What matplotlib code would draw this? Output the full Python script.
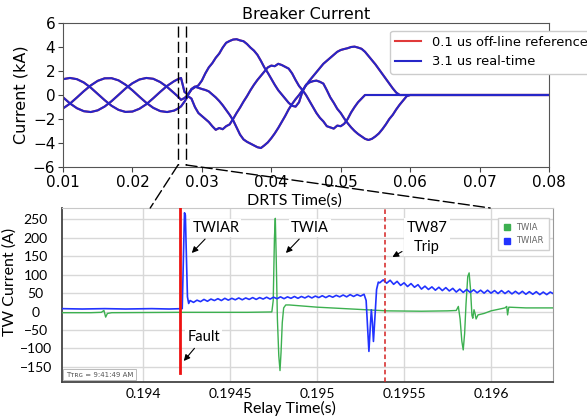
import numpy as np
import matplotlib.pyplot as plt
from matplotlib.lines import Line2D
from matplotlib.patches import ConnectionPatch

# ---- top panel: DRTS breaker current (kA), times in ms ----
t_ms = np.concatenate([np.arange(10, 26.5, 1.0), np.arange(26.5, 60.25, 0.5), [80.0]])

ia = [1.32, 1.42, 1.32, 1.04, 0.61, 0.09, -0.43, -0.90, -1.24, -1.41, -1.38, -1.15, -0.77, -0.27, 0.26, 0.76, 1.15,
      1.30, 1.42, 0.25, 0.05, 0.45, 0.65, 0.80, 1.20,
      1.80, 2.30, 2.65, 3.10, 3.45, 3.95, 4.35, 4.50, 4.62, 4.65,
      4.55, 4.48, 4.25, 3.95, 3.70, 3.35, 2.85, 2.30, 1.85, 1.35,
      0.85, 0.40, 0.05, -0.30, -0.65, -0.90, -0.97, -0.60, 0.30, 0.85,
      1.05, 1.15, 1.20, 1.10, 0.95, 0.40, -0.20, -0.65, -1.15, -1.50,
      -1.95, -2.35, -2.70, -3.00, -3.25, -3.45, -3.65, -3.75, -3.65, -3.45,
      -3.20, -2.85, -2.45, -2.00, -1.65, -1.20, -0.80, -0.45, -0.10, 0.00,
      0.00]
ib = [-0.19, -0.70, -1.10, -1.35, -1.42, -1.28, -0.96, -0.51, 0.01, 0.54, 0.98, 1.29, 1.42, 1.35, 1.08, 0.67, 0.16,
      -0.10, -0.40, -0.25, 0.00, 0.50, 0.70, 0.60, 0.50,
      0.42, 0.30, 0.05, -0.20, -0.50, -0.85, -1.25, -1.65, -2.10, -2.70,
      -3.30, -3.70, -3.90, -4.05, -4.20, -4.35, -4.42, -4.20, -3.95, -3.60,
      -3.20, -2.75, -2.25, -1.75, -1.20, -0.75, -0.35, 0.00, 0.40, 0.80,
      1.20, 1.55, 1.90, 2.25, 2.60, 2.85, 3.10, 3.35, 3.60, 3.75,
      3.83, 3.90, 4.00, 4.03, 3.95, 3.85, 3.60, 3.25, 2.90, 2.55,
      2.15, 1.75, 1.35, 0.95, 0.55, 0.20, 0.00, 0.00, 0.00, 0.00,
      0.00]
ic = [-1.12, -0.72, -0.21, 0.32, 0.80, 1.18, 1.39, 1.40, 1.22, 0.86, 0.39, -0.14, -0.65, -1.07, -1.34, -1.42, -1.30,
      -1.15, -0.95, -0.55, -0.10, -0.30, -1.00, -1.50, -1.75,
      -2.00, -2.25, -2.60, -2.90, -2.75, -2.85, -2.60, -2.45, -2.00, -1.50,
      -1.05, -0.55, -0.10, 0.40, 0.85, 1.25, 1.60, 1.95, 2.30, 2.45,
      2.40, 2.60, 2.50, 2.35, 2.20, 1.80, 1.25, 0.75, 0.40, 0.00,
      -0.50, -1.00, -1.50, -1.90, -2.20, -2.60, -2.70, -2.80, -2.55, -2.60,
      -2.40, -2.00, -1.45, -1.00, -0.60, -0.30, 0.00, 0.00, 0.00, 0.00,
      0.00, 0.00, 0.00, 0.00, 0.00, 0.00, 0.00, 0.00, 0.00, 0.00,
      0.00]

zoom_t = [0.02657, 0.02772]        # dashed window (DRTS time)
zoom_relay = [0.194041, 0.195995]  # where the window lands on the relay axis

# ---- bottom panel: relay TW currents (A) ----
twiar_pre_t = [0.19353, 0.19365, 0.19378, 0.19390, 0.19405, 0.19415, 0.194225]
twiar_pre = [8, 7, 8, 7, 8, 7, 8]
twiar_spk_t = [0.194232, 0.194238, 0.194243, 0.194249, 0.194255, 0.194262]
twiar_spk = [150, 268, 262, 150, 40, 22]
twiar_r1 = [30, 25, 31, 27, 33, 28, 34, 30, 35, 30, 36, 31, 36, 32, 37, 32, 37, 33, 38, 33,
            38, 34, 39, 34, 39, 35, 40, 35, 40, 36, 41, 36, 41, 37, 42, 37, 42, 38, 43, 38,
            43, 39, 44, 40, 45, 40, 46, 41, 46, 42, 47]
twiar_dip_t = [0.195282, 0.195290, 0.195298, 0.195306, 0.195312, 0.195318, 0.195324,
               0.195332, 0.195342, 0.195352]
twiar_dip = [30, -40, -108, -40, 5, -30, -81, -20, 60, 80]
twiar_r2 = [78, 86, 77, 85, 74, 82, 71, 78, 68, 76, 66, 73, 61, 69, 60, 67, 58, 66, 57, 65,
            56, 63, 53, 61, 52, 60, 52, 59, 51, 58, 50, 58, 50, 57, 49, 57, 49, 56, 48, 55,
            48, 55, 47, 54, 47, 54, 46, 53, 46, 53, 48]

twia_t = [0.19353, 0.19370, 0.19376, 0.193775, 0.193785, 0.193795, 0.19382, 0.19420, 0.19460,
          0.194740, 0.194748, 0.194755, 0.194760, 0.194765, 0.194772, 0.194780, 0.194787,
          0.194793, 0.194800, 0.194808, 0.194820, 0.194840, 0.19500, 0.19520, 0.19540,
          0.19560, 0.19575, 0.195800, 0.195812, 0.195822, 0.195832, 0.195840, 0.195848,
          0.195856, 0.195866, 0.195874, 0.195882, 0.195890, 0.195895, 0.195902, 0.195908,
          0.195914, 0.195925, 0.19596, 0.19600, 0.19608, 0.196090, 0.196095, 0.196102,
          0.19620, 0.19636]
twia = [-3, -3, -2, 3, -15, -5, -3, -2, -2,
        -1, 30, 200, 253, 150, -20, -120, -160,
        -110, -30, 10, 18, 18, 12, 7, 2,
        1, 2, 3, 14, -20, -80, -104, -60,
        20, 95, 105, 60, -10, -18, 5, -5,
        -20, -9, -5, 2, 10, 14, -9, 12,
        10, 10]

fault_t = 0.194211
trip_t = 0.195393

W, H = 587, 417
fig = plt.figure(figsize=(W / 100, H / 100), dpi=100)

# ================= top =================
ax1 = fig.add_axes([63 / W, 1 - 167 / H, 486 / W, 144 / H])
t = t_ms / 1000
for k, y in enumerate([ia, ib, ic]):
    ax1.plot(t, y, color='#e03a3a', lw=1.5, label='0.1 us off-line reference' if k == 0 else None)
for k, y in enumerate([ia, ib, ic]):
    ax1.plot(t, y, color='#2626c8', lw=1.5, label='3.1 us real-time' if k == 0 else None)
for zt in zoom_t:
    ax1.plot([zt, zt], [5.75, -5.83], color='k', lw=1.0, dashes=(8, 3), clip_on=False)
ax1.set_xlim(0.01, 0.08)
ax1.set_ylim(-6, 6)
ax1.set_xticks(np.arange(0.01, 0.0801, 0.01))
ax1.set_yticks(np.arange(-6, 7, 2))
ax1.tick_params(labelsize=11, length=3.5, color='#444', pad=2)
for s in ax1.spines.values():
    s.set_color('#555')
ax1.set_title('Breaker Current', fontsize=11.5, pad=3)
ax1.set_ylabel('Current (kA)', fontsize=11.5, labelpad=3)
ax1.text(0.477, -0.235, 'DRTS Time(s)', transform=ax1.transAxes, ha='center', va='center',
         fontsize=11.5, family='Lato')
ax1.legend(loc='upper left', bbox_to_anchor=(0.673, 0.9465), borderaxespad=0,
           fontsize=9.4, handlelength=2.0, framealpha=1.0, edgecolor='#cccccc')

# ================= bottom =================
ax2 = fig.add_axes([62 / W, 1 - 382 / H, 491 / W, 174 / H])
blue_t = np.concatenate([twiar_pre_t, twiar_spk_t, np.linspace(0.19427, 0.19527, len(twiar_r1)),
                         twiar_dip_t, np.linspace(0.19536, 0.19636, len(twiar_r2))])
blue_y = np.concatenate([twiar_pre, twiar_spk, twiar_r1, twiar_dip, twiar_r2])
ax2.plot(twia_t, twia, color='#3cb050', lw=1.0, zorder=3)
ax2.plot(blue_t, blue_y, color='#2233ff', lw=1.2, zorder=4)
ax2.plot([fault_t, fault_t], [300, -166], color='#ee1111', lw=2.0, zorder=5)
ax2.axvline(trip_t, color='#d42020', lw=1.1, dashes=(3, 2), zorder=5)

ax2.set_xlim(0.193534, 0.196356)
ax2.set_ylim(-191, 281)
ax2.set_xticks([0.194, 0.1945, 0.195, 0.1955, 0.196])
ax2.set_xticklabels(['0.194', '0.1945', '0.195', '0.1955', '0.196'])
ax2.set_yticks(np.arange(-150, 251, 50))
ax2.grid(True, color='#d8d8d8', lw=1.0, zorder=0)
ax2.set_axisbelow(True)
ax2.tick_params(length=0, labelsize=10, pad=4)
ax2.tick_params(axis='y', pad=19)
for lab in ax2.get_xticklabels() + ax2.get_yticklabels():
    lab.set_family('Lato')
for lab in ax2.get_yticklabels():
    lab.set_horizontalalignment('center')
ax2.spines['left'].set_color('#444')
ax2.spines['left'].set_linewidth(1.3)
ax2.spines['bottom'].set_color('#444')
ax2.spines['bottom'].set_linewidth(1.3)
ax2.spines['top'].set_color('#c8c8c8')
ax2.spines['right'].set_color('#999999')

ax2.text(0.464, -0.15, 'Relay Time(s)', transform=ax2.transAxes, ha='center', va='center',
         fontsize=11.5, family='Lato')
ax2.text(-0.106, 0.575, 'TW Current (A)', transform=ax2.transAxes, ha='center', va='center',
         rotation=90, fontsize=11.5, family='Lato')

box = dict(boxstyle='square,pad=0.15', fc='white', ec='none')
arrow = dict(arrowstyle='-|>', color='black', lw=0.8, mutation_scale=9, shrinkA=2, shrinkB=0)
ax2.annotate('TWIAR', xy=(0.194280, 159), xytext=(0.194418, 227), ha='center', va='center',
             fontsize=10.5, family='Lato', bbox=box, arrowprops=arrow, zorder=6)
ax2.annotate('TWIA', xy=(0.194821, 159), xytext=(0.194959, 227), ha='center', va='center',
             fontsize=10.5, family='Lato', bbox=box, arrowprops=arrow, zorder=6)
ax2.annotate('TW87\nTrip', xy=(0.195433, 148), xytext=(0.195632, 202), ha='center', va='center',
             fontsize=10.5, family='Lato', linespacing=1.45, bbox=box, arrowprops=arrow, zorder=6)
ax2.annotate('Fault', xy=(0.194234, -134), xytext=(0.194350, -69), ha='center', va='center',
             fontsize=10.5, family='Lato', bbox=box, arrowprops=arrow, zorder=6)

ax2.text(0.008, 0.03, 'Tᴛʀɢ = 9:41:49 AM', transform=ax2.transAxes, fontsize=5, color='#555',
         bbox=dict(boxstyle='square,pad=0.35', fc='white', ec='#b0b0b0', lw=0.6), zorder=6)

handles = [Line2D([], [], ls='none', marker='s', ms=5, color='#3cb050'),
           Line2D([], [], ls='none', marker='s', ms=5, color='#2233ff')]
leg2 = ax2.legend(handles, ['TWIA', 'TWIAR'], loc='upper right', bbox_to_anchor=(1.0, 0.965),
                  fontsize=6, handlelength=1.0, handletextpad=0.6, labelspacing=0.5,
                  framealpha=1.0, fancybox=False, edgecolor='#d0d0d0', borderpad=0.6)
for txt in leg2.get_texts():
    txt.set_color('#666')

# ---- dashed connectors from the zoom window to the relay plot ----
for zt, zr in zip(zoom_t, zoom_relay):
    con = ConnectionPatch(xyA=(zt, -5.83), coordsA=ax1.transData,
                          xyB=(zr, 1.0), coordsB=ax2.get_xaxis_transform(),
                          color='k', lw=1.0, linestyle=(0, (8, 3)))
    fig.add_artist(con)

fig.savefig('out.png', dpi=100)
